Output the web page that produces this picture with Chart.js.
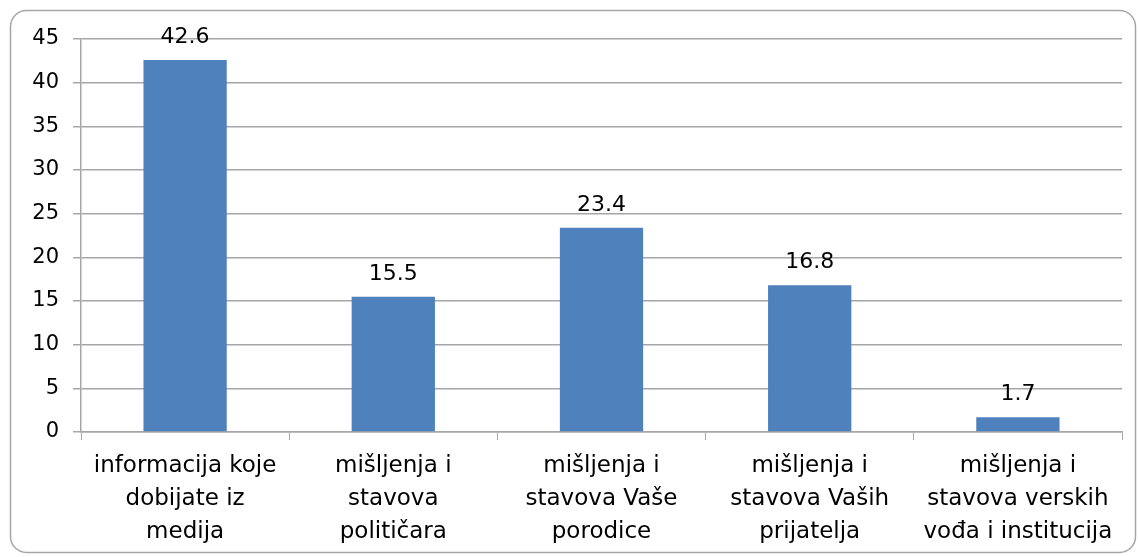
<!DOCTYPE html>
<html>
<head>
<meta charset="utf-8">
<script src="https://cdn.jsdelivr.net/npm/chart.js@4"></script>
<style>
  html, body { margin: 0; padding: 0; background: #fff; }
  #wrap { width: 1138px; height: 557px; position: relative; }
</style>
</head>
<body>
<div id="wrap"><canvas id="chart"></canvas></div>
<script>
const categories = [
  ['informacija koje', 'dobijate iz', 'medija'],
  ['mišljenja i', 'stavova', 'političara'],
  ['mišljenja i', 'stavova Vaše', 'porodice'],
  ['mišljenja i', 'stavova Vaših', 'prijatelja'],
  ['mišljenja i', 'stavova verskih', 'vođa i institucija']
];
const values = [42.6, 15.5, 23.4, 16.8, 1.7];
const yMax = 45;
const yStep = 5;

const FONT = '"DejaVu Sans", sans-serif';
const GRID = '#a6a6a6';

// rounded frame round the whole chart
const framePlugin = {
  id: 'frame',
  beforeDraw(chart) {
    const ctx = chart.ctx;
    ctx.save();
    ctx.strokeStyle = '#a6a6a6';
    ctx.lineWidth = 1.5;
    ctx.beginPath();
    ctx.roundRect(10.5, 10.5, 1125, 542, 16);
    ctx.stroke();
    ctx.restore();
  }
};

// value labels above bars
const valueLabels = {
  id: 'valueLabels',
  afterDatasetsDraw(chart) {
    const ctx = chart.ctx;
    const meta = chart.getDatasetMeta(0);
    ctx.save();
    ctx.fillStyle = '#000';
    ctx.font = '22px ' + FONT;
    ctx.textAlign = 'center';
    ctx.textBaseline = 'alphabetic';
    meta.data.forEach((bar, i) => {
      ctx.fillText(values[i].toFixed(1), bar.x, bar.y - 17);
    });
    ctx.restore();
  }
};

new Chart(document.getElementById('chart'), {
  type: 'bar',
  data: {
    labels: categories,
    datasets: [{
      data: values,
      backgroundColor: '#4f81bd',
      barPercentage: 0.4,
      categoryPercentage: 1.0
    }]
  },
  options: {
    responsive: true,
    maintainAspectRatio: false,
    animation: false,
    layout: { padding: { left: 0, top: 39, right: 16, bottom: 0 } },
    plugins: {
      legend: { display: false },
      tooltip: { enabled: false }
    },
    scales: {
      x: {
        grid: { drawOnChartArea: false, drawTicks: true, tickLength: 8, color: GRID, offset: true },
        border: { color: GRID, width: 1.5 },
        ticks: { color: '#000', font: { family: FONT, size: 23, lineHeight: 1.43 }, padding: 10, maxRotation: 0, autoSkip: false },
        afterFit(scale) { scale.height = 125; }
      },
      y: {
        min: 0,
        max: yMax,
        grid: { color: GRID, lineWidth: 1.5, tickLength: 8 },
        border: { color: GRID, width: 1.5 },
        ticks: { stepSize: yStep, color: '#000', font: { family: FONT, size: 21 }, padding: 14 },
        afterFit(scale) { scale.width = 81; }
      }
    }
  },
  plugins: [framePlugin, valueLabels]
});
</script>
</body>
</html>
